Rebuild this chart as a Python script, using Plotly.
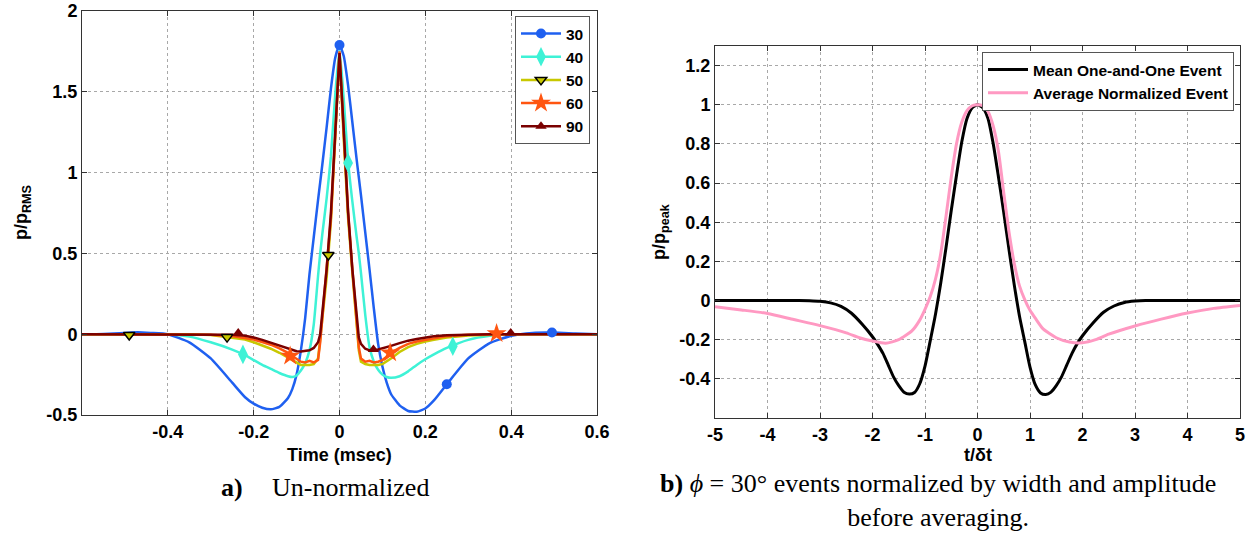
import plotly.graph_objects as go

# ---------------- Left panel data (Time in msec, p/p_RMS) ----------------
t_left = [-0.6, -0.55, -0.5, -0.47, -0.44, -0.4, -0.35, -0.3, -0.25, -0.22, -0.2,
          -0.18, -0.16, -0.14, -0.12, -0.11, -0.1, -0.09, -0.08, -0.07, -0.06,
          -0.05, -0.045, -0.04, -0.03, -0.02, -0.01, 0, 0.01, 0.02, 0.03,
          0.04, 0.045, 0.05, 0.06, 0.07, 0.08, 0.09, 0.1, 0.11, 0.12,
          0.14, 0.16, 0.18, 0.2, 0.22, 0.25, 0.3, 0.35, 0.4, 0.45,
          0.5, 0.55, 0.6]

p30 = [0.0, 0.002, 0.008, 0.012, 0.008, 0.0, -0.05, -0.15, -0.3, -0.39, -0.43,
       -0.455, -0.465, -0.45, -0.395, -0.34, -0.25, -0.1, 0.1, 0.37, 0.6,
       0.83, 0.94, 1.05, 1.28, 1.52, 1.71, 1.79, 1.72, 1.54, 1.31,
       1.08, 0.97, 0.86, 0.63, 0.4, 0.16, -0.06, -0.2, -0.3, -0.37,
       -0.44, -0.475, -0.48, -0.46, -0.41, -0.31, -0.15, -0.055, -0.01, 0.008,
       0.01, 0.004, 0.0]

p40 = [0.0, 0.0, 0.0, 0.0, 0.0, 0.0, -0.015, -0.05, -0.095, -0.13, -0.16,
       -0.19, -0.215, -0.24, -0.26, -0.265, -0.255, -0.225, -0.18, -0.1, 0.06,
       0.36, 0.5, 0.62, 0.84, 1.1, 1.48, 1.76, 1.45, 1.07, 0.82,
       0.6, 0.5, 0.38, 0.12, -0.08, -0.17, -0.22, -0.25, -0.265, -0.27,
       -0.26, -0.23, -0.19, -0.155, -0.125, -0.085, -0.035, -0.01, 0.0, 0.0,
       0.0, 0.0, 0.0]

p50 = [0.0, 0.0, 0.0, 0.0, 0.0, 0.0, 0.0, -0.005, -0.02, -0.033, -0.05,
       -0.068, -0.09, -0.115, -0.145, -0.165, -0.18, -0.19, -0.19, -0.19, -0.185,
       -0.15, -0.03, 0.1, 0.35, 0.7, 1.2, 1.74, 1.2, 0.72, 0.38,
       0.05, -0.1, -0.17, -0.185, -0.19, -0.19, -0.19, -0.185, -0.17, -0.15,
       -0.11, -0.08, -0.06, -0.045, -0.035, -0.02, -0.008, -0.002, 0.0, 0.0,
       0.0, 0.0, 0.0]

p60 = [0.0, 0.0, 0.0, 0.0, 0.0, 0.0, 0.0, -0.003, -0.012, -0.022, -0.033,
       -0.048, -0.065, -0.088, -0.115, -0.135, -0.155, -0.17, -0.175, -0.165, -0.175,
       -0.16, -0.05, 0.1, 0.38, 0.72, 1.22, 1.75, 1.24, 0.75, 0.4,
       0.06, -0.08, -0.15, -0.17, -0.165, -0.175, -0.17, -0.16, -0.14, -0.115,
       -0.085, -0.06, -0.045, -0.035, -0.025, -0.012, -0.004, -0.001, 0.0, 0.0,
       0.0, 0.0, 0.0]

p90 = [0.0, 0.0, 0.0, 0.0, 0.0, 0.0, 0.0, 0.0, -0.004, -0.01, -0.02,
       -0.035, -0.052, -0.07, -0.088, -0.097, -0.105, -0.107, -0.105, -0.1, -0.085,
       -0.05, 0.0, 0.12, 0.4, 0.75, 1.25, 1.74, 1.26, 0.76, 0.4,
       0.1, -0.02, -0.06, -0.09, -0.1, -0.1, -0.095, -0.088, -0.08, -0.072,
       -0.055, -0.04, -0.03, -0.02, -0.013, -0.006, -0.002, 0.0, 0.0, 0.0,
       0.0, 0.0, 0.0]

# marker positions (MATLAB-style sparse markers)
m30_x = [0.0, 0.25, 0.495];     m30_y = [1.79, -0.31, 0.01]
m40_x = [-0.225, 0.02, 0.264];  m40_y = [-0.125, 1.06, -0.075]
m50_x = [-0.49, -0.262, -0.026]; m50_y = [-0.005, -0.018, 0.49]
m60_x = [-0.115, 0.118, 0.366]; m60_y = [-0.135, -0.115, 0.005]
m90_x = [-0.236, 0.079, 0.399]; m90_y = [0.008, -0.095, 0.008]

series_names = ["30", "40", "50", "60", "90"]

# ---------------- Right panel data (t/δt, p/p_peak) ----------------
t_mean = [-5, -4, -3.4, -3.2, -3.0, -2.8, -2.6, -2.4, -2.2, -2.0, -1.9, -1.8,
          -1.7, -1.6, -1.5, -1.4, -1.3, -1.2, -1.1, -1.0, -0.9, -0.8, -0.7,
          -0.6, -0.5, -0.4, -0.3, -0.2, -0.1, 0, 0.1, 0.2, 0.3, 0.4, 0.5,
          0.6, 0.7, 0.8, 0.9, 1.0, 1.1, 1.2, 1.3, 1.4, 1.5, 1.6, 1.7, 1.8,
          1.9, 2.0, 2.2, 2.4, 2.6, 2.8, 3.0, 3.2, 3.4, 4, 5]
p_mean = [0, 0, 0, -0.001, -0.004, -0.012, -0.03, -0.065, -0.12, -0.185, -0.225, -0.27,
          -0.33, -0.39, -0.435, -0.468, -0.478, -0.47, -0.425, -0.335, -0.205, -0.07, 0.09,
          0.27, 0.46, 0.64, 0.81, 0.93, 0.985, 1.0, 0.985, 0.93, 0.8, 0.63, 0.45,
          0.26, 0.08, -0.08, -0.21, -0.34, -0.43, -0.472, -0.48, -0.468, -0.435, -0.39, -0.33, -0.27,
          -0.22, -0.18, -0.115, -0.06, -0.028, -0.01, -0.003, 0, 0, 0, 0]

t_avg = [-5, -4.5, -4, -3.5, -3, -2.5, -2.25, -2, -1.75, -1.5, -1.25, -1.1,
         -1.0, -0.9, -0.8, -0.7, -0.6, -0.5, -0.4, -0.3, -0.2, -0.1, 0,
         0.1, 0.2, 0.3, 0.4, 0.5, 0.6, 0.7, 0.8, 0.9, 1.0, 1.1, 1.25,
         1.5, 1.75, 2.0, 2.25, 2.5, 3, 3.5, 4, 4.5, 5]
p_avg = [-0.032, -0.048, -0.066, -0.097, -0.128, -0.165, -0.19, -0.207, -0.218, -0.2, -0.155, -0.1,
         -0.045, 0.02, 0.11, 0.24, 0.43, 0.63, 0.8, 0.91, 0.97, 0.995, 1.0,
         0.995, 0.965, 0.89, 0.76, 0.55, 0.35, 0.19, 0.075, 0.005, -0.05, -0.09, -0.145,
         -0.19, -0.212, -0.216, -0.2, -0.172, -0.13, -0.095, -0.064, -0.04, -0.025]

left_xticks = [-0.4, -0.2, 0, 0.2, 0.4, 0.6]
left_xticklabels = ["-0.4", "-0.2", "0", "0.2", "0.4", "0.6"]
left_yticks = [-0.5, 0, 0.5, 1, 1.5, 2]
left_yticklabels = ["-0.5", "0", "0.5", "1", "1.5", "2"]
right_xticks = [-5, -4, -3, -2, -1, 0, 1, 2, 3, 4, 5]
right_xticklabels = ["-5", "-4", "-3", "-2", "-1", "0", "1", "2", "3", "4", "5"]
right_yticks = [-0.4, -0.2, 0, 0.2, 0.4, 0.6, 0.8, 1.0, 1.2]
right_yticklabels = ["-0.4", "-0.2", "0", "0.2", "0.4", "0.6", "0.8", "1", "1.2"]

# ---------------- styles ----------------
SANS = "Liberation Sans, Arial, sans-serif"
SERIF = "Liberation Serif, Times New Roman, serif"
colors = ["#1f60f0", "#3ef2d6", "#c8c800", "#ff5510", "#7a0000"]
symbols = ["circle", "diamond-tall", "triangle-down", "star", "triangle-up"]
msizes = [10, 14, 10, 15, 10]
mlines = [dict(width=0), dict(width=0), dict(width=1.5, color="black"),
          dict(width=0), dict(width=0)]
shapes_left = ["spline", "spline", "linear", "linear", "linear"]

W, H = 1260, 535
fig = go.Figure()

left_series = [p30, p40, p50, p60, p90]
marks = [(m30_x, m30_y), (m40_x, m40_y), (m50_x, m50_y), (m60_x, m60_y), (m90_x, m90_y)]

for i, ys in enumerate(left_series):
    line = dict(color=colors[i], width=2.5, shape=shapes_left[i])
    if shapes_left[i] == "spline":
        line["smoothing"] = 0.5
    fig.add_trace(go.Scatter(x=t_left, y=ys, mode="lines", line=line,
                             showlegend=False, xaxis="x", yaxis="y",
                             hoverinfo="skip"))
for i, (mx, my) in enumerate(marks):
    fig.add_trace(go.Scatter(x=mx, y=my, mode="markers",
                             marker=dict(color=colors[i], symbol=symbols[i],
                                         size=msizes[i], line=mlines[i]),
                             showlegend=False, xaxis="x", yaxis="y"))
# legend entries (line + marker)
for i, name in enumerate(series_names):
    fig.add_trace(go.Scatter(x=[None], y=[None], mode="lines+markers", name=name,
                             line=dict(color=colors[i], width=2.5),
                             marker=dict(color=colors[i], symbol=symbols[i],
                                         size=msizes[i], line=mlines[i]),
                             xaxis="x", yaxis="y", legend="legend"))

fig.add_trace(go.Scatter(x=t_mean, y=p_mean, mode="lines", name="Mean One-and-One Event",
                         line=dict(color="black", width=3, shape="spline", smoothing=0.6),
                         xaxis="x2", yaxis="y2", legend="legend2"))
fig.add_trace(go.Scatter(x=t_avg, y=p_avg, mode="lines", name="Average Normalized Event",
                         line=dict(color="#ff99c2", width=3, shape="spline", smoothing=0.6),
                         xaxis="x2", yaxis="y2", legend="legend2"))

axis_common = dict(showline=True, linecolor="#333333", linewidth=1, mirror="ticks",
                   ticks="inside", ticklen=5, tickcolor="#333333",
                   showgrid=True, gridcolor="#a8a8a8", griddash="dot", gridwidth=1,
                   zeroline=False, ticklabeloverflow="allow", automargin=False,
                   tickfont=dict(family=SANS, size=18, color="black", weight="bold"))

fig.update_layout(
    width=W, height=H,
    margin=dict(l=0, r=0, t=0, b=0, autoexpand=False),
    paper_bgcolor="white", plot_bgcolor="white",
    xaxis=dict(domain=[82 / W, 597 / W], range=[-0.6, 0.6], anchor="y",
               tickvals=left_xticks, ticktext=left_xticklabels, **axis_common),
    yaxis=dict(domain=[1 - 415 / H, 1 - 11 / H], range=[-0.5, 2], anchor="x",
               tickvals=left_yticks, ticktext=left_yticklabels, **axis_common),
    xaxis2=dict(domain=[715 / W, 1240 / W], range=[-5, 5], anchor="y2",
                tickvals=right_xticks, ticktext=right_xticklabels, **axis_common),
    yaxis2=dict(domain=[1 - 418 / H, 1 - 46 / H], range=[-0.6, 1.3], anchor="x2",
                tickvals=right_yticks, ticktext=right_yticklabels, **axis_common),
    legend=dict(x=590 / W, xanchor="right", y=1 - 16 / H, yanchor="top",
                bgcolor="white", bordercolor="#555555", borderwidth=1,
                font=dict(family=SANS, size=15.5, color="black", weight="bold"),
                tracegroupgap=0, itemwidth=40),
    legend2=dict(x=1234 / W, xanchor="right", y=1 - 52 / H, yanchor="top",
                 bgcolor="white", bordercolor="#555555", borderwidth=1,
                 font=dict(family=SANS, size=15.5, color="black", weight="bold"),
                 tracegroupgap=0, itemwidth=40),
)

ann_font = dict(family=SANS, size=18, color="black", weight="bold")
cap_font = dict(family=SERIF, size=26, color="black")
annotations = [
    dict(text="Time (msec)", x=339.5 / W, y=1 - 455 / H, font=ann_font),
    dict(text="t/δt", x=977.5 / W, y=1 - 455 / H, font=ann_font),
    dict(text="p/p<sub>RMS</sub>", x=22 / W, y=1 - 213 / H, font=ann_font, textangle=-90),
    dict(text="p/p<sub>peak</sub>", x=660 / W, y=1 - 232 / H, font=ann_font, textangle=-90),
    dict(text="<b>a)</b>", x=232 / W, y=1 - 487 / H, font=cap_font),
    dict(text="Un-normalized", x=270 / W, y=1 - 487 / H, font=cap_font, xanchor="left"),
    dict(text="<b>b)</b> <i>ϕ</i> = 30° events normalized by width and amplitude"
              "<br>before averaging.",
         x=938 / W, y=1 - 500 / H, font=cap_font),
]
for a in annotations:
    a.setdefault("xanchor", "center")
    a.update(xref="paper", yref="paper", yanchor="middle", showarrow=False)
fig.update_layout(annotations=annotations)

fig.write_html("out.html")
